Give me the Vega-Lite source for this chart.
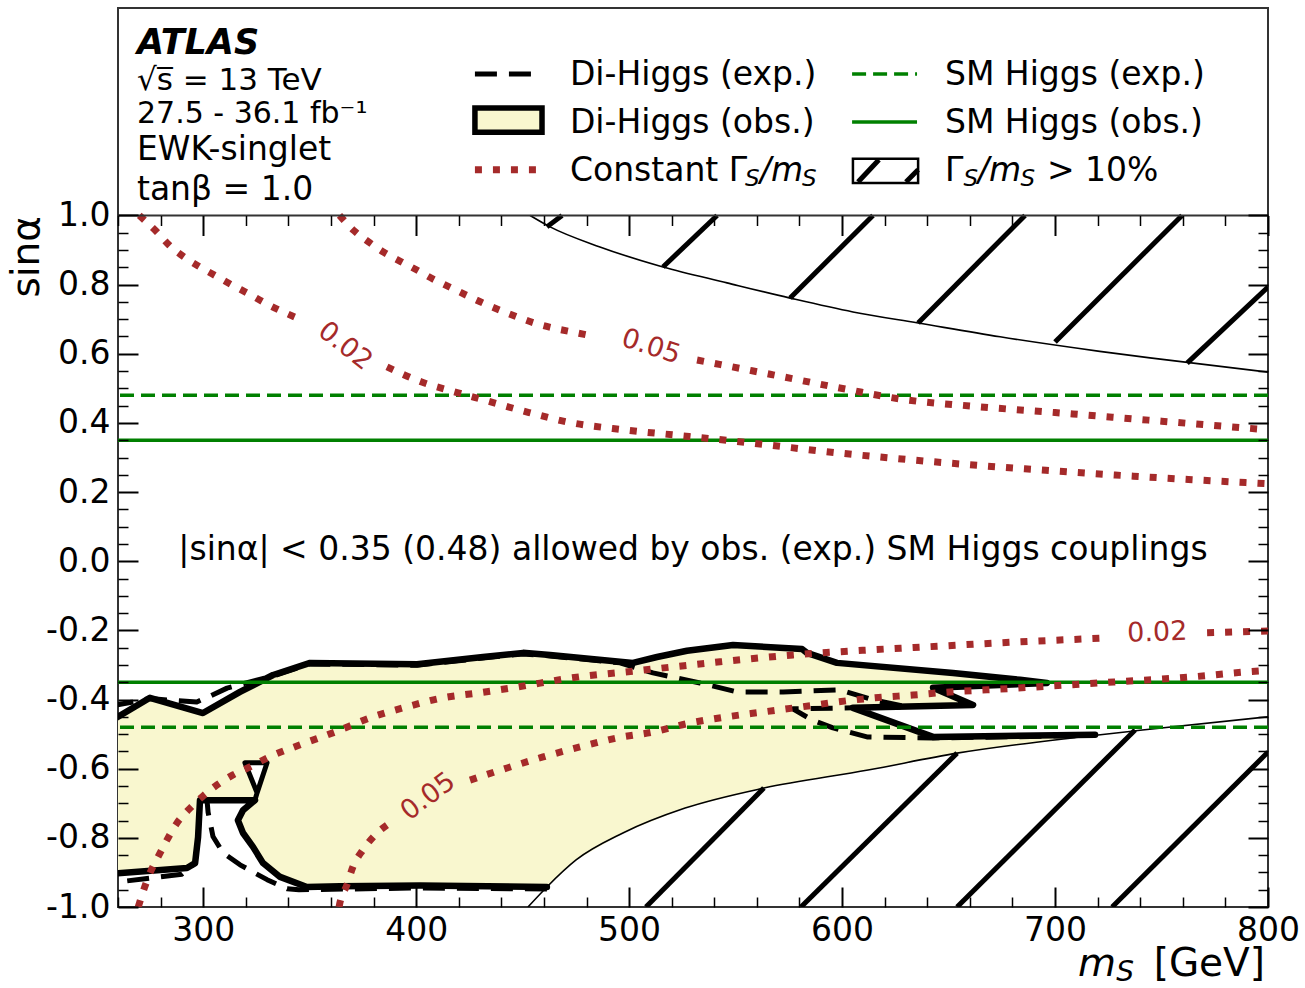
{
"$schema": "https://vega.github.io/schema/vega-lite/v6.json",
"width": 1150, "height": 899,
"autosize": {"type": "none"},
"padding": {"left": 118, "top": 8, "right": 37, "bottom": 81},
"background": "white",
"config": {"view": {"stroke": "#333", "strokeWidth": 2}, "font": "DejaVu Sans", "axis": {"grid": false, "domain": false}},
"resolve": {"axis": {"x": "independent", "y": "independent"}},
"datasets": {
"one": [{}],
"fill": [
{"m":260,"s":-0.45},{"m":275,"s":-0.395},{"m":299.9,"s":-0.439},{"m":317.3,"s":-0.378},{"m":332.8,"s":-0.329},{"m":350.2,"s":-0.294},{"m":400.4,"s":-0.298},{"m":431.4,"s":-0.277},{"m":450.2,"s":-0.265},{"m":462.9,"s":-0.271},{"m":495.7,"s":-0.291},{"m":501.8,"s":-0.294},{"m":513.1,"s":-0.277},{"m":527.2,"s":-0.259},{"m":548.8,"s":-0.242},{"m":581.2,"s":-0.254},{"m":583.5,"s":-0.265},{"m":597.6,"s":-0.294},{"m":652.1,"s":-0.323},{"m":683.6,"s":-0.343},{"m":696.2,"s":-0.352},{"m":642.7,"s":-0.366},{"m":661.5,"s":-0.416},{"m":605.1,"s":-0.424},{"m":642.7,"s":-0.508},{"m":718.8,"s":-0.502},{"m":710.8,"s":-0.509},{"m":654.0,"s":-0.555},{"m":612.2,"s":-0.604},{"m":563.3,"s":-0.656},{"m":526.3,"s":-0.714},{"m":497.1,"s":-0.786},{"m":475.1,"s":-0.864},{"m":461.4,"s":-0.942},{"m":401.8,"s":-0.938},{"m":364.2,"s":-0.94},{"m":348.7,"s":-0.942},{"m":336.1,"s":-0.913},{"m":328.1,"s":-0.873},{"m":323.4,"s":-0.826},{"m":318.7,"s":-0.786},{"m":316.3,"s":-0.749},{"m":318.7,"s":-0.72},{"m":324.3,"s":-0.691},{"m":298.5,"s":-0.691},{"m":297.6,"s":-0.798},{"m":296.2,"s":-0.873},{"m":292.4,"s":-0.887},{"m":260,"s":-0.902}
],
"obs": [
{"seg":"t","m":257,"s":-0.461},{"seg":"t","m":275,"s":-0.395},{"seg":"t","m":299.9,"s":-0.439},{"seg":"t","m":317.3,"s":-0.378},{"seg":"t","m":332.8,"s":-0.329},{"seg":"t","m":350.2,"s":-0.294},{"seg":"t","m":400.4,"s":-0.298},{"seg":"t","m":431.4,"s":-0.277},{"seg":"t","m":450.2,"s":-0.265},{"seg":"t","m":462.9,"s":-0.271},{"seg":"t","m":495.7,"s":-0.291},{"seg":"t","m":501.8,"s":-0.294},{"seg":"t","m":513.1,"s":-0.277},{"seg":"t","m":527.2,"s":-0.259},{"seg":"t","m":548.8,"s":-0.242},{"seg":"t","m":581.2,"s":-0.254},{"seg":"t","m":583.5,"s":-0.265},{"seg":"t","m":597.6,"s":-0.294},{"seg":"t","m":652.1,"s":-0.323},{"seg":"t","m":683.6,"s":-0.343},{"seg":"t","m":696.2,"s":-0.352},{"seg":"t","m":642.7,"s":-0.366},{"seg":"t","m":661.5,"s":-0.416},{"seg":"t","m":605.1,"s":-0.424},{"seg":"t","m":642.7,"s":-0.508},{"seg":"t","m":718.8,"s":-0.502},
{"seg":"b","m":461.4,"s":-0.942},{"seg":"b","m":401.8,"s":-0.938},{"seg":"b","m":364.2,"s":-0.94},{"seg":"b","m":348.7,"s":-0.942},{"seg":"b","m":336.1,"s":-0.913},{"seg":"b","m":328.1,"s":-0.873},{"seg":"b","m":323.4,"s":-0.826},{"seg":"b","m":318.7,"s":-0.786},{"seg":"b","m":316.3,"s":-0.749},{"seg":"b","m":318.7,"s":-0.72},{"seg":"b","m":324.3,"s":-0.691},{"seg":"b","m":298.5,"s":-0.691},{"seg":"b","m":297.6,"s":-0.798},{"seg":"b","m":296.2,"s":-0.873},{"seg":"b","m":292.4,"s":-0.887},{"seg":"b","m":257,"s":-0.904}
],
"exp": [
{"seg":"t","m":257,"s":-0.418},{"seg":"t","m":267,"s":-0.407},{"seg":"t","m":275,"s":-0.397},{"seg":"t","m":283,"s":-0.401},{"seg":"t","m":297,"s":-0.407},{"seg":"t","m":303.2,"s":-0.39},{"seg":"t","m":311.2,"s":-0.367},{"seg":"t","m":322,"s":-0.349},{"seg":"t","m":332.8,"s":-0.332},{"seg":"t","m":350.2,"s":-0.297},{"seg":"t","m":400.4,"s":-0.301},{"seg":"t","m":431.4,"s":-0.28},{"seg":"t","m":450.2,"s":-0.268},{"seg":"t","m":462.9,"s":-0.274},{"seg":"t","m":495.7,"s":-0.294},{"seg":"t","m":511.2,"s":-0.323},{"seg":"t","m":533.3,"s":-0.352},{"seg":"t","m":550.7,"s":-0.378},{"seg":"t","m":572.3,"s":-0.378},{"seg":"t","m":599,"s":-0.372},{"seg":"t","m":614.5,"s":-0.401},{"seg":"t","m":630.5,"s":-0.421},{"seg":"t","m":605.1,"s":-0.424},{"seg":"t","m":576.9,"s":-0.427},{"seg":"t","m":585.9,"s":-0.459},{"seg":"t","m":595.7,"s":-0.482},{"seg":"t","m":611.7,"s":-0.508},{"seg":"t","m":642.7,"s":-0.511},{"seg":"t","m":718.8,"s":-0.504},
{"seg":"b","m":461.4,"s":-0.948},{"seg":"b","m":401.8,"s":-0.945},{"seg":"b","m":345,"s":-0.95},{"seg":"b","m":339.4,"s":-0.947},{"seg":"b","m":330,"s":-0.921},{"seg":"b","m":317.3,"s":-0.878},{"seg":"b","m":309.3,"s":-0.843},{"seg":"b","m":304.6,"s":-0.796},{"seg":"b","m":302.3,"s":-0.726},{"seg":"b","m":301.8,"s":-0.691},{"seg":"b","m":298.5,"s":-0.691},{"seg":"b","m":297.6,"s":-0.798},{"seg":"b","m":296.2,"s":-0.873},{"seg":"b","m":290,"s":-0.905},{"seg":"b","m":257,"s":-0.93}
],
"tri": [
{"m":324.3,"s":-0.691},{"m":325.3,"s":-0.67},{"m":319.6,"s":-0.583},{"m":330,"s":-0.583},{"m":325.3,"s":-0.67}
],
"hc": [
{"seg":"u","m":453.5,"s":1.0},{"seg":"u","m":462.9,"s":0.967},{"seg":"u","m":486.3,"s":0.909},{"seg":"u","m":515.9,"s":0.851},{"seg":"u","m":546,"s":0.805},{"seg":"u","m":575.6,"s":0.761},{"seg":"u","m":605.1,"s":0.721},{"seg":"u","m":635.7,"s":0.689},{"seg":"u","m":674.2,"s":0.649},{"seg":"u","m":721,"s":0.607},{"seg":"u","m":744.6,"s":0.588},{"seg":"u","m":800,"s":0.547},
{"seg":"l","m":452.5,"s":-1.0},{"seg":"l","m":461.4,"s":-0.942},{"seg":"l","m":475.1,"s":-0.864},{"seg":"l","m":497.1,"s":-0.786},{"seg":"l","m":526.3,"s":-0.714},{"seg":"l","m":563.3,"s":-0.656},{"seg":"l","m":612.2,"s":-0.604},{"seg":"l","m":654,"s":-0.555},{"seg":"l","m":710.8,"s":-0.509},{"seg":"l","m":739.9,"s":-0.489},{"seg":"l","m":800,"s":-0.45}
],
"hl": [
{"m":461.4,"s":0.967,"m2":468.5,"s2":1.0},{"m":515.9,"s":0.851,"m2":541.3,"s2":1.0},{"m":575.6,"s":0.761,"m2":614.5,"s2":1.0},{"m":635.7,"s":0.689,"m2":685.9,"s2":1.0},{"m":700,"s":0.634,"m2":759.6,"s2":1.0},{"m":762,"s":0.573,"m2":800,"s2":0.793},
{"m":507.9,"s":-1.0,"m2":563.3,"s2":-0.656},{"m":580.7,"s":-1.0,"m2":654.0,"s2":-0.555},{"m":654.0,"s":-1.0,"m2":737.6,"s2":-0.488},{"m":726.8,"s":-1.0,"m2":800,"s2":-0.552}
],
"sm": [{"s":0.48,"k":"exp"},{"s":-0.48,"k":"exp"},{"s":0.35,"k":"obs"},{"s":-0.35,"k":"obs"}],
"gw": [
{"seg":"u02a","m":270,"s":1.0},{"seg":"u02a","m":278.3,"s":0.952},{"seg":"u02a","m":283.9,"s":0.915},{"seg":"u02a","m":291,"s":0.88},{"seg":"u02a","m":298.5,"s":0.851},{"seg":"u02a","m":306,"s":0.825},{"seg":"u02a","m":313.5,"s":0.799},{"seg":"u02a","m":321.5,"s":0.773},{"seg":"u02a","m":329,"s":0.747},{"seg":"u02a","m":345,"s":0.701},
{"seg":"u02b","m":386.3,"s":0.562},{"seg":"u02b","m":402.3,"s":0.519},{"seg":"u02b","m":419.7,"s":0.487},{"seg":"u02b","m":431.4,"s":0.467},{"seg":"u02b","m":453,"s":0.43},{"seg":"u02b","m":470.8,"s":0.403},{"seg":"u02b","m":497.6,"s":0.38},{"seg":"u02b","m":523,"s":0.364},{"seg":"u02b","m":550,"s":0.347},{"seg":"u02b","m":600,"s":0.312},{"seg":"u02b","m":650,"s":0.284},{"seg":"u02b","m":700,"s":0.261},{"seg":"u02b","m":750,"s":0.241},{"seg":"u02b","m":800,"s":0.224},
{"seg":"u05a","m":364,"s":1.0},{"seg":"u05a","m":371,"s":0.955},{"seg":"u05a","m":378,"s":0.922},{"seg":"u05a","m":385,"s":0.893},{"seg":"u05a","m":393,"s":0.866},{"seg":"u05a","m":401,"s":0.84},{"seg":"u05a","m":408,"s":0.816},{"seg":"u05a","m":416,"s":0.792},{"seg":"u05a","m":424,"s":0.768},{"seg":"u05a","m":432,"s":0.745},{"seg":"u05a","m":441,"s":0.722},{"seg":"u05a","m":449,"s":0.703},{"seg":"u05a","m":457,"s":0.686},{"seg":"u05a","m":466,"s":0.672},{"seg":"u05a","m":475,"s":0.661},{"seg":"u05a","m":484,"s":0.65},
{"seg":"u05b","m":531.9,"s":0.582},{"seg":"u05b","m":567.6,"s":0.539},{"seg":"u05b","m":602.3,"s":0.497},{"seg":"u05b","m":628.6,"s":0.468},{"seg":"u05b","m":660,"s":0.449},{"seg":"u05b","m":700,"s":0.43},{"seg":"u05b","m":750,"s":0.405},{"seg":"u05b","m":800,"s":0.38},
{"seg":"l02a","m":269.5,"s":-1.0},{"seg":"l02a","m":271.7,"s":-0.957},{"seg":"l02a","m":275,"s":-0.902},{"seg":"l02a","m":278.8,"s":-0.855},{"seg":"l02a","m":283,"s":-0.806},{"seg":"l02a","m":287.7,"s":-0.757},{"seg":"l02a","m":292.9,"s":-0.72},{"seg":"l02a","m":299.4,"s":-0.682},{"seg":"l02a","m":306.5,"s":-0.647},{"seg":"l02a","m":314,"s":-0.618},{"seg":"l02a","m":322,"s":-0.595},{"seg":"l02a","m":330,"s":-0.569},{"seg":"l02a","m":345.5,"s":-0.531},{"seg":"l02a","m":361.9,"s":-0.494},{"seg":"l02a","m":378.3,"s":-0.453},{"seg":"l02a","m":395.7,"s":-0.421},{"seg":"l02a","m":412.6,"s":-0.395},{"seg":"l02a","m":429,"s":-0.381},{"seg":"l02a","m":447.4,"s":-0.364},{"seg":"l02a","m":472.2,"s":-0.338},{"seg":"l02a","m":506.5,"s":-0.315},{"seg":"l02a","m":542.7,"s":-0.291},{"seg":"l02a","m":577,"s":-0.271},{"seg":"l02a","m":611.7,"s":-0.257},{"seg":"l02a","m":647.4,"s":-0.245},{"seg":"l02a","m":664.8,"s":-0.239},{"seg":"l02a","m":724.4,"s":-0.222},
{"seg":"l02b","m":771.4,"s":-0.207},{"seg":"l02b","m":800,"s":-0.202},
{"seg":"l05a","m":363.8,"s":-1.0},{"seg":"l05a","m":364.2,"s":-0.988},{"seg":"l05a","m":367.5,"s":-0.936},{"seg":"l05a","m":370.3,"s":-0.884},{"seg":"l05a","m":375,"s":-0.835},{"seg":"l05a","m":380.7,"s":-0.792},{"seg":"l05a","m":387.7,"s":-0.757},
{"seg":"l05b","m":425.3,"s":-0.633},{"seg":"l05b","m":442.7,"s":-0.598},{"seg":"l05b","m":459.6,"s":-0.566},{"seg":"l05b","m":476.9,"s":-0.537},{"seg":"l05b","m":494.3,"s":-0.511},{"seg":"l05b","m":511.2,"s":-0.494},{"seg":"l05b","m":528.6,"s":-0.468},{"seg":"l05b","m":546,"s":-0.45},{"seg":"l05b","m":562.9,"s":-0.436},{"seg":"l05b","m":581.2,"s":-0.421},{"seg":"l05b","m":597.6,"s":-0.407},{"seg":"l05b","m":615.5,"s":-0.395},{"seg":"l05b","m":633.3,"s":-0.387},{"seg":"l05b","m":650.7,"s":-0.378},{"seg":"l05b","m":668.1,"s":-0.372},{"seg":"l05b","m":728.2,"s":-0.349},{"seg":"l05b","m":763.4,"s":-0.335},{"seg":"l05b","m":790.1,"s":-0.32},{"seg":"l05b","m":800,"s":-0.316}
]
},
"layer": [
{"data": {"name": "fill"},
 "mark": {"type": "line", "filled": true, "fill": "#f9f7cf", "clip": true},
 "encoding": {
  "x": {"field": "m", "type": "quantitative", "scale": {"domain": [260, 800], "nice": false, "zero": false},
   "axis": {"orient": "bottom", "values": [300,400,500,600,700,800], "format": "d", "tickSize": -20, "tickWidth": 2, "tickColor": "black", "labelPadding": 27, "labelFontSize": 33, "labelFont": "DejaVu Sans", "labelColor": "black", "labelFlush": false, "labelOverlap": false, "domain": false, "grid": false, "title": null, "zindex": 1}},
  "y": {"field": "s", "type": "quantitative", "scale": {"domain": [-1, 1.6], "nice": false, "zero": false},
   "axis": {"orient": "left", "values": [-1,-0.8,-0.6,-0.4,-0.2,0,0.2,0.4,0.6,0.8,1], "labelExpr": "replace(format(datum.value,'.1f'),'−','-')", "tickSize": -20, "tickWidth": 2, "tickColor": "black", "labelPadding": 28, "labelFontSize": 33, "labelFont": "DejaVu Sans", "labelColor": "black", "labelFlush": false, "labelOverlap": false, "labelBaseline": "middle", "domain": false, "grid": false,
    "title": "sinα", "titleFontSize": 39, "titleFont": "DejaVu Sans", "titleFontWeight": "normal", "titleColor": "black", "titleAngle": -90, "titleAlign": "right", "titleBaseline": "middle", "titleX": -92, "titleY": 207.5, "zindex": 1}},
  "order": {"value": null}
 }},
{"data": {"name": "hc"},
 "mark": {"type": "line", "color": "black", "strokeWidth": 1.6, "interpolate": "monotone", "clip": true},
 "encoding": {
  "x": {"field": "m", "type": "quantitative", "axis": {"orient": "bottom", "values": [260,280,320,340,360,380,420,440,460,480,520,540,560,580,620,640,660,680,720,740,760,780], "tickSize": -10, "tickWidth": 1.5, "tickColor": "black", "labels": false, "domain": false, "grid": false, "title": null, "zindex": 1}},
  "y": {"field": "s", "type": "quantitative", "axis": {"orient": "left", "values": [-0.95,-0.9,-0.85,-0.75,-0.7,-0.65,-0.55,-0.5,-0.45,-0.35,-0.3,-0.25,-0.15,-0.1,-0.05,0.05,0.1,0.15,0.25,0.3,0.35,0.45,0.5,0.55,0.65,0.7,0.75,0.85,0.9,0.95], "tickSize": -10, "tickWidth": 1.5, "tickColor": "black", "labels": false, "domain": false, "grid": false, "title": null, "zindex": 1}},
  "detail": {"field": "seg"},
  "order": {"value": null}
 }},
{"data": {"name": "hl"},
 "mark": {"type": "rule", "color": "black", "strokeWidth": 5, "clip": true},
 "encoding": {
  "x": {"field": "m", "type": "quantitative", "axis": {"orient": "top", "offset": -207.5, "values": [300,400,500,600,700,800], "tickSize": -20, "tickWidth": 2, "tickColor": "black", "labels": false, "domain": false, "grid": false, "title": null, "zindex": 1}},
  "y": {"field": "s", "type": "quantitative", "axis": {"orient": "right", "values": [-1,-0.8,-0.6,-0.4,-0.2,0,0.2,0.4,0.6,0.8,1], "tickSize": -20, "tickWidth": 2, "tickColor": "black", "labels": false, "domain": false, "grid": false, "title": null, "zindex": 1}},
  "x2": {"field": "m2"}, "y2": {"field": "s2"}
 }},
{"data": {"name": "exp"},
 "mark": {"type": "line", "color": "black", "strokeWidth": 5, "strokeDash": [22, 12], "strokeJoin": "round", "clip": true},
 "encoding": {
  "x": {"field": "m", "type": "quantitative", "axis": {"orient": "top", "offset": -207.5, "values": [260,280,320,340,360,380,420,440,460,480,520,540,560,580,620,640,660,680,720,740,760,780], "tickSize": -10, "tickWidth": 1.5, "tickColor": "black", "labels": false, "domain": false, "grid": false, "title": null, "zindex": 1}},
  "y": {"field": "s", "type": "quantitative", "axis": {"orient": "right", "values": [-0.95,-0.9,-0.85,-0.75,-0.7,-0.65,-0.55,-0.5,-0.45,-0.35,-0.3,-0.25,-0.15,-0.1,-0.05,0.05,0.1,0.15,0.25,0.3,0.35,0.45,0.5,0.55,0.65,0.7,0.75,0.85,0.9,0.95], "tickSize": -10, "tickWidth": 1.5, "tickColor": "black", "labels": false, "domain": false, "grid": false, "title": null, "zindex": 1}},
  "detail": {"field": "seg"},
  "order": {"value": null}
 }},
{"data": {"name": "obs"},
 "mark": {"type": "line", "color": "black", "strokeWidth": 6.5, "strokeJoin": "round", "strokeCap": "round", "clip": true},
 "encoding": {
  "x": {"field": "m", "type": "quantitative", "axis": null},
  "y": {"field": "s", "type": "quantitative", "axis": null},
  "detail": {"field": "seg"},
  "order": {"value": null}
 }},
{"data": {"name": "tri"},
 "mark": {"type": "line", "filled": true, "fill": "white", "stroke": "black", "strokeWidth": 5, "strokeJoin": "round", "clip": true},
 "encoding": {
  "x": {"field": "m", "type": "quantitative", "axis": null},
  "y": {"field": "s", "type": "quantitative", "axis": null},
  "order": {"value": null}
 }},
{"data": {"name": "sm"},
 "transform": [{"filter": "datum.k == 'exp'"}],
 "mark": {"type": "rule", "color": "#008000", "strokeWidth": 3.5, "strokeDash": [14, 7]},
 "encoding": {"y": {"field": "s", "type": "quantitative", "axis": null}}},
{"data": {"name": "sm"},
 "transform": [{"filter": "datum.k == 'obs'"}],
 "mark": {"type": "rule", "color": "#008000", "strokeWidth": 3.5},
 "encoding": {"y": {"field": "s", "type": "quantitative", "axis": null}}},
{"data": {"name": "gw"},
 "mark": {"type": "line", "color": "#a52a2a", "strokeWidth": 7, "strokeDash": [7, 11], "strokeCap": "butt", "interpolate": "monotone", "clip": true},
 "encoding": {
  "x": {"field": "m", "type": "quantitative", "axis": null},
  "y": {"field": "s", "type": "quantitative", "axis": null},
  "detail": {"field": "seg"},
  "order": {"value": null}
 }},
{"data": {"name": "one"},
 "mark": {"type": "rule", "color": "#333", "strokeWidth": 2},
 "encoding": {"y": {"datum": 1.0, "type": "quantitative", "axis": null}}},

{"data": {"name": "one"}, "mark": {"type": "text", "align": "left", "baseline": "middle", "fontSize": 35, "fontWeight": "bold", "fontStyle": "italic", "color": "black"},
 "encoding": {"x": {"datum": 268.9, "type": "quantitative", "axis": null}, "y": {"datum": 1.5, "type": "quantitative", "axis": null}, "text": {"value": "ATLAS"}}},
{"data": {"name": "one"}, "mark": {"type": "text", "align": "left", "baseline": "middle", "fontSize": 31, "color": "black"},
 "encoding": {"x": {"datum": 268.9, "type": "quantitative", "axis": null}, "y": {"datum": 1.389, "type": "quantitative", "axis": null}, "text": {"value": "√s̅ =  13 TeV"}}},
{"data": {"name": "one"}, "mark": {"type": "text", "align": "left", "baseline": "middle", "fontSize": 30, "color": "black"},
 "encoding": {"x": {"datum": 268.9, "type": "quantitative", "axis": null}, "y": {"datum": 1.294, "type": "quantitative", "axis": null}, "text": {"value": "27.5 - 36.1 fb⁻¹"}}},
{"data": {"name": "one"}, "mark": {"type": "text", "align": "left", "baseline": "middle", "fontSize": 33, "color": "black"},
 "encoding": {"x": {"datum": 268.9, "type": "quantitative", "axis": null}, "y": {"datum": 1.189, "type": "quantitative", "axis": null}, "text": {"value": "EWK-singlet"}}},
{"data": {"name": "one"}, "mark": {"type": "text", "align": "left", "baseline": "middle", "fontSize": 33, "color": "black"},
 "encoding": {"x": {"datum": 268.9, "type": "quantitative", "axis": null}, "y": {"datum": 1.074, "type": "quantitative", "axis": null}, "text": {"value": "tanβ = 1.0"}}},

{"data": {"name": "one"}, "mark": {"type": "rule", "color": "black", "strokeWidth": 5, "strokeDash": [22, 12]},
 "encoding": {"x": {"datum": 427.6, "type": "quantitative", "axis": null}, "x2": {"datum": 458.2}, "y": {"datum": 1.409, "type": "quantitative", "axis": null}}},
{"data": {"name": "one"}, "mark": {"type": "rect", "fill": "#f9f7cf", "stroke": "black", "strokeWidth": 5.5},
 "encoding": {"x": {"datum": 427.6, "type": "quantitative", "axis": null}, "x2": {"datum": 459.1}, "y": {"datum": 1.311, "type": "quantitative", "axis": null}, "y2": {"datum": 1.241}}},
{"data": {"name": "one"}, "mark": {"type": "rule", "color": "#a52a2a", "strokeWidth": 7, "strokeDash": [7, 11]},
 "encoding": {"x": {"datum": 427.6, "type": "quantitative", "axis": null}, "x2": {"datum": 458.2}, "y": {"datum": 1.132, "type": "quantitative", "axis": null}}},
{"data": {"name": "one"}, "mark": {"type": "rule", "color": "#008000", "strokeWidth": 3.5, "strokeDash": [14, 7]},
 "encoding": {"x": {"datum": 604.7, "type": "quantitative", "axis": null}, "x2": {"datum": 635.2}, "y": {"datum": 1.409, "type": "quantitative", "axis": null}}},
{"data": {"name": "one"}, "mark": {"type": "rule", "color": "#008000", "strokeWidth": 3.5},
 "encoding": {"x": {"datum": 604.7, "type": "quantitative", "axis": null}, "x2": {"datum": 635.2}, "y": {"datum": 1.270, "type": "quantitative", "axis": null}}},
{"data": {"name": "one"}, "mark": {"type": "rect", "fill": "white", "stroke": "black", "strokeWidth": 2.5},
 "encoding": {"x": {"datum": 605.1, "type": "quantitative", "axis": null}, "x2": {"datum": 635.7}, "y": {"datum": 1.164, "type": "quantitative", "axis": null}, "y2": {"datum": 1.094}}},
{"data": {"name": "one"}, "mark": {"type": "rule", "color": "black", "strokeWidth": 5},
 "encoding": {"x": {"datum": 607.5, "type": "quantitative", "axis": null}, "x2": {"datum": 617.3}, "y": {"datum": 1.097, "type": "quantitative", "axis": null}, "y2": {"datum": 1.161}}},
{"data": {"name": "one"}, "mark": {"type": "rule", "color": "black", "strokeWidth": 5},
 "encoding": {"x": {"datum": 630.0, "type": "quantitative", "axis": null}, "x2": {"datum": 635.7}, "y": {"datum": 1.097, "type": "quantitative", "axis": null}, "y2": {"datum": 1.132}}},

{"data": {"name": "one"}, "mark": {"type": "text", "align": "left", "baseline": "middle", "fontSize": 33, "color": "black"},
 "encoding": {"x": {"datum": 472.2, "type": "quantitative", "axis": null}, "y": {"datum": 1.405, "type": "quantitative", "axis": null}, "text": {"value": "Di-Higgs (exp.)"}}},
{"data": {"name": "one"}, "mark": {"type": "text", "align": "left", "baseline": "middle", "fontSize": 33, "color": "black"},
 "encoding": {"x": {"datum": 472.2, "type": "quantitative", "axis": null}, "y": {"datum": 1.266, "type": "quantitative", "axis": null}, "text": {"value": "Di-Higgs (obs.)"}}},
{"data": {"name": "one"}, "mark": {"type": "text", "align": "left", "baseline": "middle", "fontSize": 33, "color": "black"},
 "encoding": {"x": {"datum": 472.2, "type": "quantitative", "axis": null}, "y": {"datum": 1.128, "type": "quantitative", "axis": null}, "text": {"value": "Constant Γ"}}},
{"data": {"name": "one"}, "mark": {"type": "text", "align": "left", "baseline": "middle", "fontSize": 23, "fontStyle": "italic", "color": "black", "dx": 175, "dy": 8},
 "encoding": {"x": {"datum": 472.2, "type": "quantitative", "axis": null}, "y": {"datum": 1.128, "type": "quantitative", "axis": null}, "text": {"value": "S"}}},
{"data": {"name": "one"}, "mark": {"type": "text", "align": "left", "baseline": "middle", "fontSize": 33, "fontStyle": "italic", "color": "black", "dx": 190},
 "encoding": {"x": {"datum": 472.2, "type": "quantitative", "axis": null}, "y": {"datum": 1.128, "type": "quantitative", "axis": null}, "text": {"value": "/m"}}},
{"data": {"name": "one"}, "mark": {"type": "text", "align": "left", "baseline": "middle", "fontSize": 23, "fontStyle": "italic", "color": "black", "dx": 232, "dy": 8},
 "encoding": {"x": {"datum": 472.2, "type": "quantitative", "axis": null}, "y": {"datum": 1.128, "type": "quantitative", "axis": null}, "text": {"value": "S"}}},
{"data": {"name": "one"}, "mark": {"type": "text", "align": "left", "baseline": "middle", "fontSize": 33, "color": "black"},
 "encoding": {"x": {"datum": 648.3, "type": "quantitative", "axis": null}, "y": {"datum": 1.405, "type": "quantitative", "axis": null}, "text": {"value": "SM Higgs (exp.)"}}},
{"data": {"name": "one"}, "mark": {"type": "text", "align": "left", "baseline": "middle", "fontSize": 33, "color": "black"},
 "encoding": {"x": {"datum": 648.3, "type": "quantitative", "axis": null}, "y": {"datum": 1.266, "type": "quantitative", "axis": null}, "text": {"value": "SM Higgs (obs.)"}}},
{"data": {"name": "one"}, "mark": {"type": "text", "align": "left", "baseline": "middle", "fontSize": 33, "color": "black"},
 "encoding": {"x": {"datum": 648.3, "type": "quantitative", "axis": null}, "y": {"datum": 1.128, "type": "quantitative", "axis": null}, "text": {"value": "Γ"}}},
{"data": {"name": "one"}, "mark": {"type": "text", "align": "left", "baseline": "middle", "fontSize": 23, "fontStyle": "italic", "color": "black", "dx": 18.5, "dy": 8},
 "encoding": {"x": {"datum": 648.3, "type": "quantitative", "axis": null}, "y": {"datum": 1.128, "type": "quantitative", "axis": null}, "text": {"value": "S"}}},
{"data": {"name": "one"}, "mark": {"type": "text", "align": "left", "baseline": "middle", "fontSize": 33, "fontStyle": "italic", "color": "black", "dx": 33},
 "encoding": {"x": {"datum": 648.3, "type": "quantitative", "axis": null}, "y": {"datum": 1.128, "type": "quantitative", "axis": null}, "text": {"value": "/m"}}},
{"data": {"name": "one"}, "mark": {"type": "text", "align": "left", "baseline": "middle", "fontSize": 23, "fontStyle": "italic", "color": "black", "dx": 75.5, "dy": 8},
 "encoding": {"x": {"datum": 648.3, "type": "quantitative", "axis": null}, "y": {"datum": 1.128, "type": "quantitative", "axis": null}, "text": {"value": "S"}}},
{"data": {"name": "one"}, "mark": {"type": "text", "align": "left", "baseline": "middle", "fontSize": 33, "color": "black", "dx": 102},
 "encoding": {"x": {"datum": 648.3, "type": "quantitative", "axis": null}, "y": {"datum": 1.128, "type": "quantitative", "axis": null}, "text": {"value": "> 10%"}}},

{"data": {"name": "one"}, "mark": {"type": "text", "align": "center", "baseline": "middle", "fontSize": 33, "color": "black"},
 "encoding": {"x": {"datum": 530, "type": "quantitative", "axis": null}, "y": {"datum": 0.033, "type": "quantitative", "axis": null}, "text": {"value": "|sinα| < 0.35 (0.48) allowed by obs. (exp.) SM Higgs couplings"}}},
{"data": {"name": "one"}, "mark": {"type": "text", "align": "center", "baseline": "middle", "fontSize": 27, "color": "#a52a2a", "angle": 38},
 "encoding": {"x": {"datum": 366.6, "type": "quantitative", "axis": null}, "y": {"datum": 0.622, "type": "quantitative", "axis": null}, "text": {"value": "0.02"}}},
{"data": {"name": "one"}, "mark": {"type": "text", "align": "center", "baseline": "middle", "fontSize": 27, "color": "#a52a2a", "angle": 18},
 "encoding": {"x": {"datum": 510.3, "type": "quantitative", "axis": null}, "y": {"datum": 0.62, "type": "quantitative", "axis": null}, "text": {"value": "0.05"}}},
{"data": {"name": "one"}, "mark": {"type": "text", "align": "center", "baseline": "middle", "fontSize": 27, "color": "#a52a2a", "angle": -37},
 "encoding": {"x": {"datum": 405.6, "type": "quantitative", "axis": null}, "y": {"datum": -0.681, "type": "quantitative", "axis": null}, "text": {"value": "0.05"}}},
{"data": {"name": "one"}, "mark": {"type": "text", "align": "center", "baseline": "middle", "fontSize": 27, "color": "#a52a2a", "angle": -2},
 "encoding": {"x": {"datum": 748, "type": "quantitative", "axis": null}, "y": {"datum": -0.207, "type": "quantitative", "axis": null}, "text": {"value": "0.02"}}},

{"data": {"name": "one"}, "mark": {"type": "text", "align": "right", "baseline": "alphabetic", "fontSize": 39, "color": "black", "dx": -3},
 "encoding": {"x": {"datum": 800, "type": "quantitative", "axis": null}, "y": {"datum": -1.2, "type": "quantitative", "axis": null}, "text": {"value": "[GeV]"}}},
{"data": {"name": "one"}, "mark": {"type": "text", "align": "right", "baseline": "alphabetic", "fontSize": 28, "fontStyle": "italic", "color": "black", "dx": -134},
 "encoding": {"x": {"datum": 800, "type": "quantitative", "axis": null}, "y": {"datum": -1.214, "type": "quantitative", "axis": null}, "text": {"value": "S"}}},
{"data": {"name": "one"}, "mark": {"type": "text", "align": "right", "baseline": "alphabetic", "fontSize": 39, "fontStyle": "italic", "color": "black", "dx": -152},
 "encoding": {"x": {"datum": 800, "type": "quantitative", "axis": null}, "y": {"datum": -1.2, "type": "quantitative", "axis": null}, "text": {"value": "m"}}}
]
}
